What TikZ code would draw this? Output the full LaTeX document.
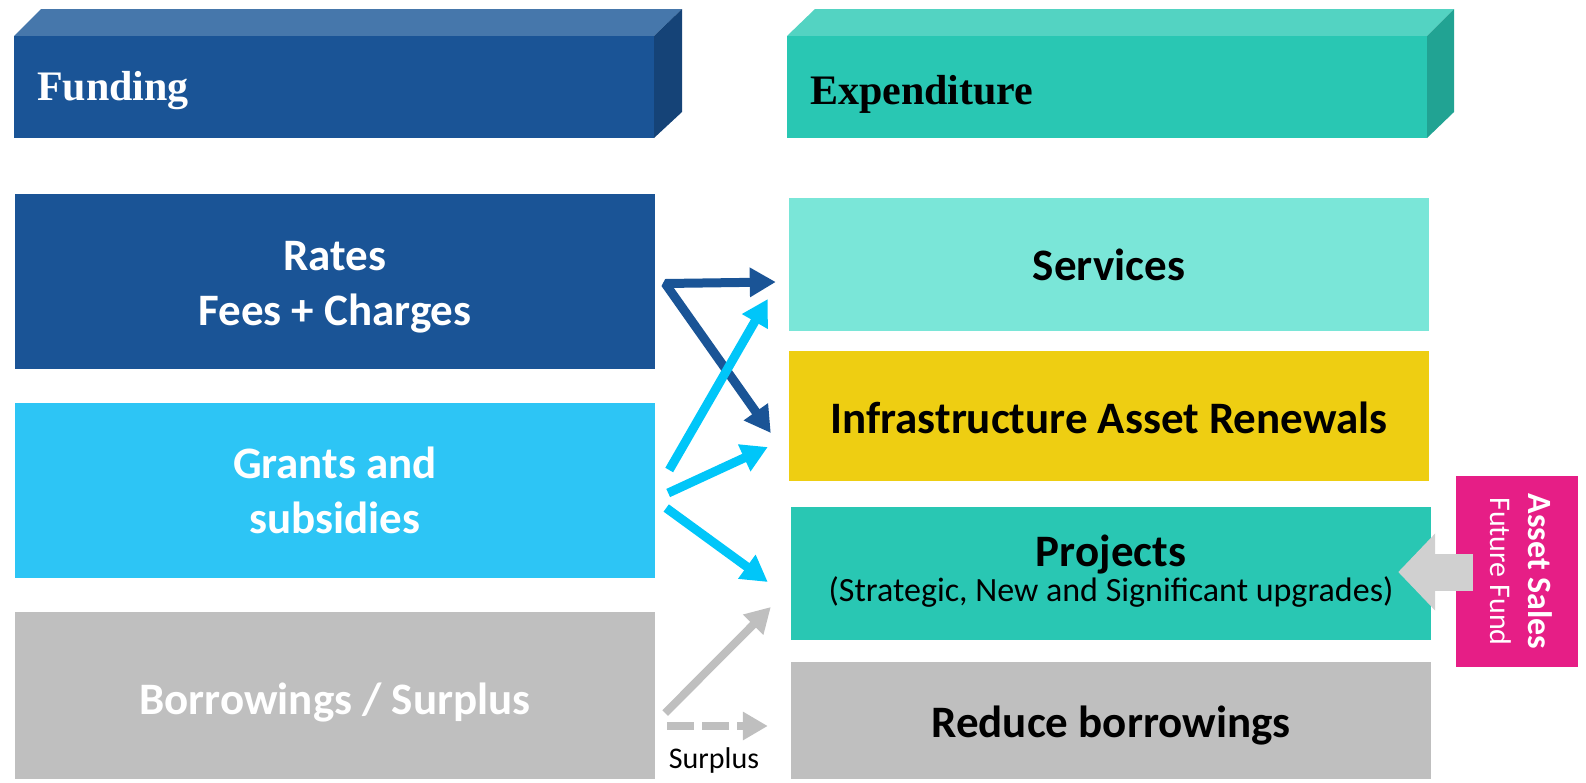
\documentclass[tikz,border=0pt]{standalone}
\usepackage{fontspec}
\setmainfont{Carlito}
\newfontfamily\headfont{Liberation Serif}
\usetikzlibrary{arrows.meta,calc}

\definecolor{fundblue}{HTML}{1A5496}
\definecolor{fundtop}{HTML}{4677AB}
\definecolor{fundside}{HTML}{154377}
\definecolor{expfront}{HTML}{29C7B3}
\definecolor{exptop}{HTML}{53D3C2}
\definecolor{expside}{HTML}{21A393}
\definecolor{grantblue}{HTML}{2DC5F5}
\definecolor{arrowblue}{HTML}{00C6F9}
\definecolor{greybox}{HTML}{BFBFBF}
\definecolor{servcol}{HTML}{7AE6D8}
\definecolor{infracol}{HTML}{EECE12}
\definecolor{projcol}{HTML}{29C7B3}
\definecolor{assetpink}{HTML}{E61E86}
\definecolor{blockgrey}{HTML}{D0D0D0}

\begin{document}
\begin{tikzpicture}[x=1pt,y=-1pt,
  panel/.style={rectangle, inner sep=0pt, minimum width=640pt, align=center,
    font=\fontsize{45}{55}\selectfont\bfseries},
  headtitle/.style={inner sep=0pt, font=\fontsize{42}{42}\selectfont\headfont\bfseries},
  tipdark/.tip={Triangle[length=26pt,width=28pt]},
  flowdark/.style={draw=fundblue, line width=9pt, line join=bevel, tipdark-tipdark},
  flowlight/.style={draw=arrowblue, line width=9pt, -{Triangle[length=26pt,width=28pt]}},
  flowgrey/.style={draw=greybox, line width=8pt, -{Triangle[length=25pt,width=27pt]}}]

\useasboundingbox (0,0) rectangle (1586,782);

% 3D header bar: Funding
\fill[fundtop] (14,36) -- (41,9) -- (682,9) -- (654,36) -- cycle;
\fill[fundside] (654,36) -- (682,9) -- (682,112) -- (654,138) -- cycle;
\node[fill=fundblue, inner sep=0pt, minimum width=640pt, minimum height=102pt] (funding) at (334,87) {};
\node[headtitle, text=white, anchor=base west] (fundingtitle) at (37,100) {Funding};

% 3D header bar: Expenditure
\fill[exptop] (787,36) -- (815,9) -- (1454,9) -- (1427,36) -- cycle;
\fill[expside] (1427,36) -- (1454,9) -- (1454,112) -- (1427,138) -- cycle;
\node[fill=expfront, inner sep=0pt, minimum width=640pt, minimum height=102pt] (expenditure) at (1107,87) {};
\node[headtitle, text=black, anchor=base west] (expendituretitle) at (810,104) {Expenditure};

% funding sources
\node[panel, fill=fundblue, text=white, minimum height=175pt] (rates) at (335,281.5) {};
\node[panel, text=white] (ratestext) at ($(rates.center)+(0,6)$) {Rates\\Fees + Charges};
\node[panel, fill=grantblue, text=white, minimum height=175pt] (grants) at (335,490.5) {Grants and\\subsidies};
\node[panel, fill=greybox, text=white, minimum height=167pt] (borrow) at (335,695.5) {};
\node[panel, text=white] (borrowtext) at ($(borrow.center)+(0,7)$) {Borrowings / Surplus};

% expenditure targets
\node[panel, fill=servcol, minimum height=133pt] (services) at (1109,264.5) {Services};
\node[panel, fill=infracol, minimum height=130pt] (infra) at (1109,416) {};
\node[panel] (infratext) at ($(infra.center)+(0,2)$) {Infrastructure Asset Renewals};
\node[panel, fill=projcol, minimum height=133pt] (projects) at (1111,573.5) {};
\node[inner sep=0pt, anchor=base, font=\fontsize{45}{45}\selectfont\bfseries] (projtitle)
  at ($(projects.center)+(0,-7)$) {Projects};
\node[inner sep=0pt, anchor=base, font=\fontsize{34}{34}\selectfont] (projsub)
  at ($(projects.center)+(0,27.5)$) {(Strategic, New and Significant upgrades)};
\node[panel, fill=greybox, minimum height=117pt] (reduce) at (1111,720.5) {};
\node[panel] (reducetext) at ($(reduce.center)+(0,5)$) {Reduce borrowings};

% asset sales side box
\node[fill=assetpink, inner sep=0pt, minimum width=122pt, minimum height=191pt] (asset) at (1517,571.5) {};
\node[rotate=-90, align=center, text=white, inner sep=0pt,
  font=\fontsize{34}{38}\selectfont] (assettext) at ($(asset.center)+(4,0)$)
  {{\bfseries Asset Sales}\\{\fontsize{30}{38}\selectfont Future Fund}};

% connectors: rates
\coordinate (fork) at ($(rates.east)+(10,2)$);
\coordinate (tipA) at ($(services.west)+(-13,17.5)$);
\coordinate (tipB) at ($(infra.west)+(-18,17)$);
\draw[flowdark] (tipA) -- (fork) -- (tipB);

% connectors: grants
\draw[flowlight] ($(grants.east)+(14,-20.5)$) -- ($(services.west)+(-21,34.5)$);
\draw[flowlight] ($(grants.east)+(13,2.5)$) -- ($(infra.west)+(-21,31)$);
\draw[flowlight] ($(grants.east)+(11,17.5)$) -- ($(projects.west)+(-23,8.5)$);

% connectors: borrowings / surplus
\draw[flowgrey] ($(borrow.east)+(10,17.5)$) -- ($(projects.west)+(-20,33.5)$);
\draw[flowgrey, dash pattern=on 27pt off 8pt] ($(borrow.east)+(12,30.5)$) -- ($(reduce.west)+(-23,5.5)$);
\node[anchor=base, inner sep=0pt, font=\fontsize{30}{30}\selectfont] (surplus) at (714,768) {Surplus};

% block arrow from asset sales into projects
\draw[blockgrey, line width=37pt, -{Triangle[length=37pt,width=75pt]}]
  ($(asset.west)+(17,0.5)$) -- ($(projects.east)+(-33,-1.5)$);

\end{tikzpicture}
\end{document}
